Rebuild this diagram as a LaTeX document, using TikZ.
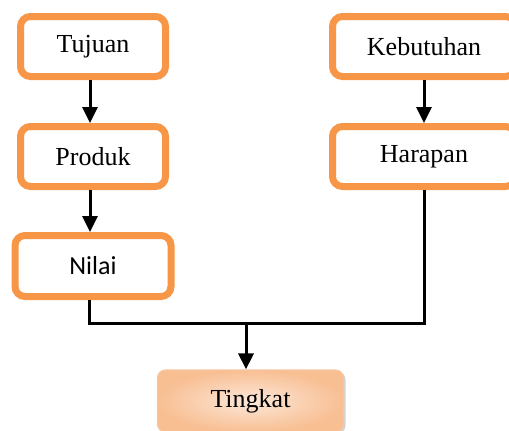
\documentclass[tikz,border=0pt]{standalone}
\usepackage{fontspec}
\setmainfont{Liberation Serif}
\newfontfamily\nilaifont{Carlito}
\usetikzlibrary{positioning,arrows.meta,shadows}
\definecolor{jingga}{HTML}{F79646}
\definecolor{jinggamuda}{HTML}{FCE7D8}
\definecolor{jinggatua}{HTML}{F8BF93}
\tikzset{
    item box/.style = {
        draw = jingga,
        line width = 3.5pt,
        rounded corners = 5pt,
        fill = white,
        minimum width = 72.5pt,
        minimum height = 30pt,
        font = \fontsize{13}{15}\selectfont,
        },
    hasil box/.style = {
        draw = jinggatua!90!white,
        line width = 0.6pt,
        rounded corners = 4pt,
        shading = radial,
        inner color = jinggamuda,
        outer color = jinggatua,
        drop shadow = {shadow xshift=1pt, shadow yshift=-0.8pt, opacity=0.35},
        minimum width = 93pt,
        minimum height = 31pt,
        font = \fontsize{13}{15}\selectfont,
        },
    link/.style = {
        line width = 1.5pt,
        },
    arrow/.style = {
        link,
        -{Triangle[width=7.5pt,length=8pt]},
        },
}
\begin{document}
\begin{tikzpicture}[x=0.5pt,y=-0.5pt,node distance=21.5pt]
            \useasboundingbox (0,0) rectangle (509,430);
            \clip (0,0) rectangle (509,430);

            \node[item box] (tujuan) at (93,46.5) {Tujuan};
            \node[item box, below=of tujuan] (produk) {Produk};
            \node[item box, below=21pt of produk, minimum width=78pt, minimum height=30.5pt,
                  font=\nilaifont\fontsize{13}{15}\selectfont] (nilai) {Nilai};
            \node[item box, right=80pt of tujuan, minimum width=91.5pt] (kebutuhan) {Kebutuhan};
            \node[item box, below=of kebutuhan, minimum width=91.5pt] (harapan) {Harapan};
            \node[hasil box] (tingkat) at (250.5,401) {Tingkat};

            \coordinate (gabung) at (246,323);

            \draw[arrow] ([xshift=-1.5pt]tujuan.south) -- ([xshift=-1.5pt]produk.north);
            \draw[arrow] ([xshift=-1.5pt]produk.south) -- ([xshift=-1.5pt]nilai.north);
            \draw[arrow] (kebutuhan.south) -- (harapan.south |- harapan.north);
            \draw[link] ([xshift=-1.75pt]nilai.south) |- (gabung) -| (harapan.south);
            \draw[arrow] (gabung) -- (gabung |- tingkat.north);
        \end{tikzpicture}
\end{document}
